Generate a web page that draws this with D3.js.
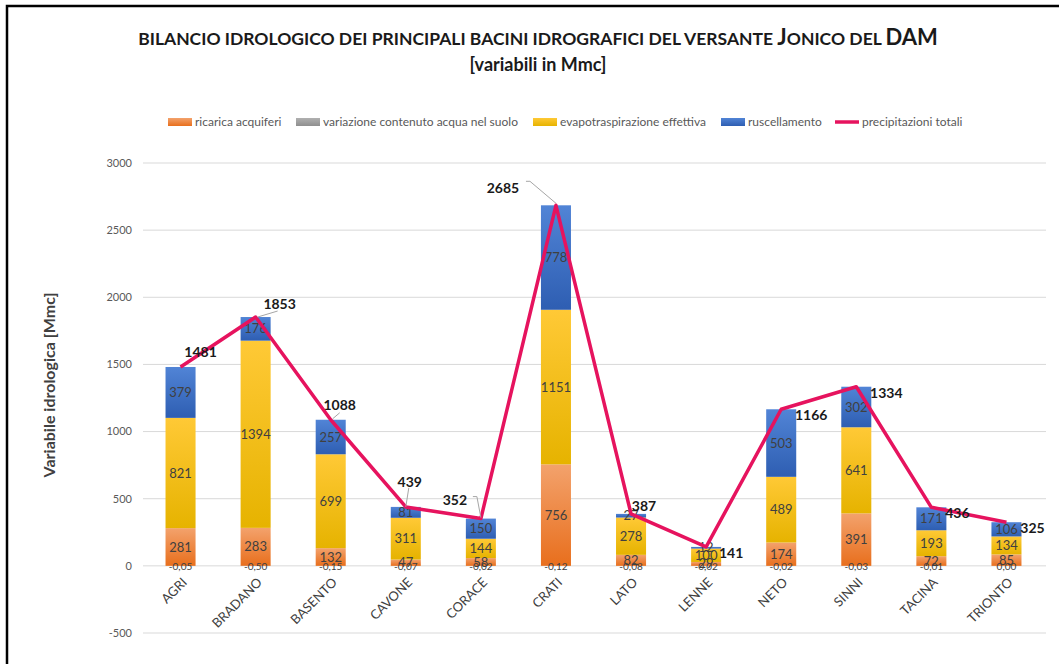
<!doctype html>
<html lang="it">
<head>
  <meta charset="utf-8">
  <title>Bilancio idrologico</title>
  <script src="https://cdn.jsdelivr.net/npm/d3@7"></script>
  <style>
    body { margin: 0; background: #fff; }
    svg { display: block; font-family: Lato, "Open Sans", sans-serif; }
    .grid line { stroke: #d9d9d9; }
    .tick-lab { fill: #595959; font-size: 11px; }
    .seg-lab { fill: #404040; font-size: 13px; }
    .var-lab { fill: #404040; font-size: 10px; }
    .tot-lab { fill: #1a1a1a; font-size: 14px; font-weight: bold; }
  </style>
</head>
<body>
<div id="chart"></div>
<script>
(function(){

  var width = 1059, height = 665;

  var bacini = ["AGRI", "BRADANO", "BASENTO", "CAVONE", "CORACE", "CRATI",
                "LATO", "LENNE", "NETO", "SINNI", "TACINA", "TRIONTO"];
  var ricarica = [281, 283, 132, 47, 58, 756, 82, 29, 174, 391, 72, 85];
  var variazione = [-0.05, -0.50, -0.15, -0.07, -0.02, -0.12, -0.08, -0.02, -0.02, -0.03, -0.01, 0.00];
  var evapotraspirazione = [821, 1394, 699, 311, 144, 1151, 278, 100, 489, 641, 193, 134];
  var ruscellamento = [379, 176, 257, 81, 150, 778, 27, 12, 503, 302, 171, 106];
  var precipitazioni = [1481, 1853, 1088, 439, 352, 2685, 387, 141, 1166, 1334, 436, 325];
  var yTicks = [-500, 0, 500, 1000, 1500, 2000, 2500, 3000];

  // label offsets for the totals (as placed by hand in the original)
  var totOffset = [[20, -15], [24, -13], [9, -15], [4, -25], [-26, -18], [-53, -17],
                   [13, -8], [25, 6], [30, 6], [30, 6], [26, 6], [26, 6]];
  var leaders = {1: [[2, 0], [22, -6]], 2: [[2, -1], [9, -7]], 3: [[0, 0], [3, -19]],
                 4: [[0, -1], [-4, -22], [-8, -22]], 5: [[0, -2], [-26, -24], [-30, -24]]};

  var series = [
    {key: "ricarica", name: "ricarica acquiferi", vals: ricarica, c0: "#f3a26c", c1: "#e86f1d"},
    {key: "variazione", name: "variazione contenuto acqua nel suolo", vals: variazione, c0: "#b0b0b0", c1: "#8f8f8f"},
    {key: "evap", name: "evapotraspirazione effettiva", vals: evapotraspirazione, c0: "#ffc936", c1: "#e6b300"},
    {key: "rusc", name: "ruscellamento", vals: ruscellamento, c0: "#5184d6", c1: "#2e5eb2"}
  ];

  var rows = bacini.map(function(b, i) {
    var r = {bacino: b};
    series.forEach(function(s) { r[s.key] = s.vals[i]; });
    return r;
  });

  var svg = d3.select("#chart").append("svg")
      .attr("width", width).attr("height", height);

  var defs = svg.append("defs");
  series.forEach(function(s) {
    var g = defs.append("linearGradient").attr("id", "g-" + s.key)
        .attr("x1", 0).attr("y1", 0).attr("x2", 0).attr("y2", 1);
    g.append("stop").attr("offset", "0%").attr("stop-color", s.c0);
    g.append("stop").attr("offset", "100%").attr("stop-color", s.c1);
  });

  // frame
  svg.append("path").attr("d", "M7,664 V6 H1059")
      .attr("fill", "none").attr("stroke", "#000").attr("stroke-width", 2.5);

  var x = d3.scaleBand().domain(bacini).range([143, 1044])
      .paddingInner(0.6).paddingOuter(0.3);
  var y = d3.scaleLinear().domain([-500, 3000]).range([633, 163]);

  // grid + y labels
  var grid = svg.append("g").attr("class", "grid");
  grid.selectAll("line").data(yTicks).enter().append("line")
      .attr("x1", 143).attr("x2", 1046)
      .attr("y1", function(d) { return y(d); })
      .attr("y2", function(d) { return y(d); });
  svg.append("g").selectAll("text").data(yTicks).enter().append("text")
      .attr("class", "tick-lab")
      .attr("x", 132).attr("y", function(d) { return y(d); })
      .attr("dy", "0.35em").attr("text-anchor", "end")
      .text(function(d) { return d; });

  // bars
  var stack = d3.stack().keys(series.map(function(s) { return s.key; }))
      .offset(d3.stackOffsetDiverging);
  var layers = stack(rows);

  var gl = svg.append("g").selectAll("g").data(layers).enter().append("g")
      .attr("fill", function(d) { return "url(#g-" + d.key + ")"; });
  gl.selectAll("rect").data(function(d) { return d; }).enter().append("rect")
      .attr("x", function(d) { return x(d.data.bacino); })
      .attr("width", x.bandwidth())
      .attr("y", function(d) { return y(d[1]); })
      .attr("height", function(d) { return Math.max(0, y(d[0]) - y(d[1])); });

  // segment labels
  var fmt = function(v) { return v.toFixed(2).replace(".", ","); };
  layers.forEach(function(layer) {
    svg.append("g").selectAll("text").data(layer).enter().append("text")
        .attr("class", layer.key == "variazione" ? "var-lab" : "seg-lab")
        .attr("x", function(d) { return x(d.data.bacino) + x.bandwidth() / 2; })
        .attr("y", function(d) { return layer.key == "variazione" ? y(0) + 1 : y((d[0] + d[1]) / 2); })
        .attr("dy", "0.35em").attr("text-anchor", "middle")
        .text(function(d) {
          var v = d.data[layer.key];
          return layer.key == "variazione" ? fmt(v) : v;
        });
  });

  // precipitation line
  var cx = function(i) { return x(bacini[i]) + x.bandwidth() / 2; };
  var line = d3.line().x(function(d, i) { return cx(i); }).y(function(d) { return y(d); });
  svg.append("path").datum(precipitazioni)
      .attr("d", line).attr("fill", "none")
      .attr("stroke", "#e6135e").attr("stroke-width", 3.5)
      .attr("stroke-linejoin", "round");

  // leader lines
  Object.keys(leaders).forEach(function(k) {
    var i = +k, px = cx(i), py = y(precipitazioni[i]);
    svg.append("path")
        .attr("d", d3.line()(leaders[k].map(function(p) { return [px + p[0], py + p[1]]; })))
        .attr("fill", "none").attr("stroke", "#a6a6a6").attr("stroke-width", 1);
  });

  svg.append("g").selectAll("text").data(precipitazioni).enter().append("text")
      .attr("class", "tot-lab")
      .attr("x", function(d, i) { return cx(i) + totOffset[i][0]; })
      .attr("y", function(d, i) { return y(d) + totOffset[i][1]; })
      .attr("dy", "0.35em").attr("text-anchor", "middle")
      .text(function(d) { return d; });

  // x labels
  svg.append("g").selectAll("text").data(bacini).enter().append("text")
      .attr("transform", function(d) { return "translate(" + (x(d) + x.bandwidth() / 2 + 4) + ",580) rotate(-45)"; })
      .attr("text-anchor", "end").attr("dy", "0.35em")
      .attr("fill", "#404040").style("font-size", "13px")
      .text(function(d) { return d; });

  // y title
  svg.append("text")
      .attr("transform", "translate(49,385) rotate(-90)")
      .attr("text-anchor", "middle").attr("dy", "0.35em")
      .attr("fill", "#404040").style("font-size", "16px").style("font-weight", "bold")
      .text("Variabile idrologica [Mmc]");

  // title
  var t1 = svg.append("text").attr("x", 538).attr("y", 45)
      .attr("text-anchor", "middle").attr("fill", "#1a1a1a")
      .style("font-weight", "bold").style("font-size", "17.5px");
  t1.append("tspan").text("BILANCIO IDROLOGICO DEI PRINCIPALI BACINI IDROGRAFICI DEL VERSANTE ");
  t1.append("tspan").style("font-size", "22px").text("J");
  t1.append("tspan").text("ONICO DEL ");
  t1.append("tspan").style("font-size", "22px").text("DAM");
  svg.append("text").attr("x", 538).attr("y", 71)
      .attr("text-anchor", "middle").attr("fill", "#1a1a1a")
      .style("font-weight", "bold").style("font-size", "18px")
      .text("[variabili in Mmc]");

  // legend
  var legX = [168, 296, 533, 721, 835];
  var leg = svg.append("g").attr("transform", "translate(0,122)");
  series.forEach(function(s, i) {
    leg.append("rect").attr("x", legX[i]).attr("y", -4).attr("width", 24).attr("height", 8)
        .attr("fill", "url(#g-" + s.key + ")");
    leg.append("text").attr("x", legX[i] + 27).attr("dy", "0.35em")
        .attr("fill", "#595959").style("font-size", "12px").text(s.name);
  });
  leg.append("line").attr("x1", legX[4]).attr("x2", legX[4] + 24)
      .attr("stroke", "#e6135e").attr("stroke-width", 3.5);
  leg.append("text").attr("x", legX[4] + 27).attr("dy", "0.35em")
      .attr("fill", "#595959").style("font-size", "12px").text("precipitazioni totali");

})();
</script>
</body>
</html>
